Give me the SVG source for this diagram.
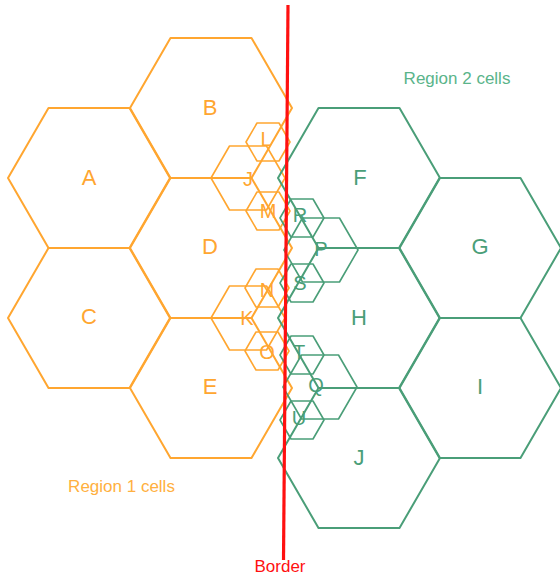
<svg xmlns="http://www.w3.org/2000/svg" width="560" height="576" viewBox="0 0 560 576">
<style>
.o{fill:none;stroke:#FFA630;stroke-width:2;stroke-linejoin:round}
.os{fill:none;stroke:#FFA630;stroke-width:1.6;stroke-linejoin:round}
.g{fill:none;stroke:#4A9E78;stroke-width:2;stroke-linejoin:round}
.gs{fill:none;stroke:#4A9E78;stroke-width:1.6;stroke-linejoin:round}
text{font-family:"Liberation Sans",Arial,sans-serif;text-anchor:middle}
.lo{fill:#FFA630;font-size:22px}
.lg{fill:#4A9E78;font-size:22px}
.so{fill:#FFA630;font-size:20px}
.sg{fill:#4A9E78;font-size:20px}
.cap{font-size:17px}
</style>
<rect width="560" height="576" fill="#FFFFFF"/>
<g id="region1">
<g id="cell-A"><polygon class="o" points="8,178 48.5,108 129.5,108 170,178 129.5,248 48.5,248"/><text class="lo" x="89" y="185">A</text></g>
<g id="cell-B"><polygon class="o" points="130,108 170.5,38 251.5,38 292,108 251.5,178 170.5,178"/><text class="lo" x="210" y="115">B</text></g>
<g id="cell-C"><polygon class="o" points="8,318 48.5,248 129.5,248 170,318 129.5,388 48.5,388"/><text class="lo" x="89" y="324">C</text></g>
<g id="cell-D"><polygon class="o" points="130,248 170.5,178 251.5,178 292,248 251.5,318 170.5,318"/><text class="lo" x="210" y="254">D</text></g>
<g id="cell-E"><polygon class="o" points="130,388 170.5,318 251.5,318 292,388 251.5,458 170.5,458"/><text class="lo" x="210" y="394">E</text></g>
<g id="cell-J1"><polygon class="os" points="211,178 229.5,146 266.5,146 285,178 266.5,210 229.5,210"/><text class="so" x="248" y="186">J</text></g>
<g id="cell-L"><polygon class="os" points="246,142 257,123 279,123 290,142 279,161 257,161"/><text class="so" x="266" y="146">L</text></g>
<g id="cell-M"><polygon class="os" points="246,211 257,192 279,192 290,211 279,230 257,230"/><text class="so" x="268" y="218">M</text></g>
<g id="cell-K"><polygon class="os" points="211,318 229.5,286 266.5,286 285,318 266.5,350 229.5,350"/><text class="so" x="247" y="325">K</text></g>
<g id="cell-N"><polygon class="os" points="245,288 256,269 278,269 289,288 278,307 256,307"/><text class="so" x="267" y="297">N</text></g>
<g id="cell-O"><polygon class="os" points="245,351 256,332 278,332 289,351 278,370 256,370"/><text class="so" x="267" y="359">O</text></g>
</g>
<g id="region2">
<g id="cell-F"><polygon class="g" points="278,178 318.5,108 399.5,108 440,178 399.5,248 318.5,248"/><text class="lg" x="360" y="185">F</text></g>
<g id="cell-G"><polygon class="g" points="399,248 439.5,178 520.5,178 561,248 520.5,318 439.5,318"/><text class="lg" x="480" y="254">G</text></g>
<g id="cell-H"><polygon class="g" points="278,318 318.5,248 399.5,248 440,318 399.5,388 318.5,388"/><text class="lg" x="359" y="325">H</text></g>
<g id="cell-I"><polygon class="g" points="399,388 439.5,318 520.5,318 561,388 520.5,458 439.5,458"/><text class="lg" x="480" y="394">I</text></g>
<g id="cell-J2"><polygon class="g" points="278,458 318.5,388 399.5,388 440,458 399.5,528 318.5,528"/><text class="lg" x="359" y="465">J</text></g>
<g id="cell-P"><polygon class="gs" points="284,250 302.5,218 339.5,218 358,250 339.5,282 302.5,282"/><text class="sg" x="321" y="256">P</text></g>
<g id="cell-R"><polygon class="gs" points="280,218 291,199 313,199 324,218 313,237 291,237"/><text class="sg" x="300" y="222">R</text></g>
<g id="cell-S"><polygon class="gs" points="280,283 291,264 313,264 324,283 313,302 291,302"/><text class="sg" x="300" y="290">S</text></g>
<g id="cell-Q"><polygon class="gs" points="283,387 301.5,355 338.5,355 357,387 338.5,419 301.5,419"/><text class="sg" x="316" y="392">Q</text></g>
<g id="cell-T"><polygon class="gs" points="280,355 291,336 313,336 324,355 313,374 291,374"/><text class="sg" x="299" y="359">T</text></g>
<g id="cell-U"><polygon class="gs" points="280,420 291,401 313,401 324,420 313,439 291,439"/><text class="sg" x="299" y="425">U</text></g>
</g>
<g id="border">
<line x1="288" y1="5" x2="283.5" y2="560" stroke="#FF1010" stroke-width="3.2"/>
<text x="280" y="572" fill="#FF1010" class="cap">Border</text>
</g>
<g id="captions">
<text x="121.5" y="492" fill="#FFB040" class="cap">Region 1 cells</text>
<text x="457" y="84" fill="#5AB48A" class="cap">Region 2 cells</text>
</g>
</svg>
